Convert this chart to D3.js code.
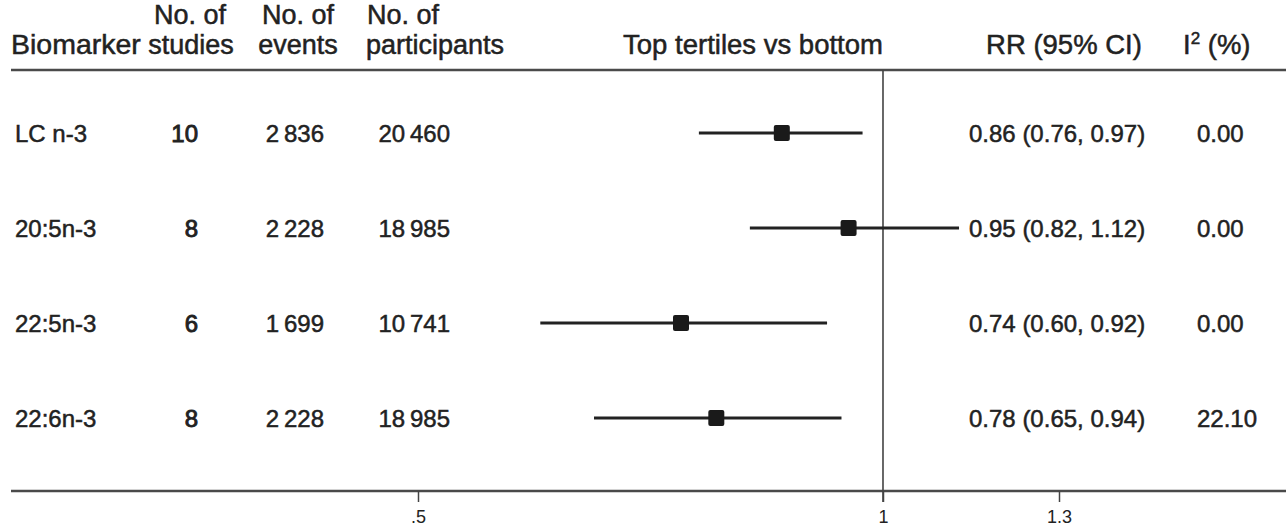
<!DOCTYPE html>
<html>
<head>
<meta charset="utf-8">
<script src="https://cdn.jsdelivr.net/npm/d3@7"></script>
<style>
  body { margin: 0; background: #fff; }
  text { font-family: "Liberation Sans", Arial, sans-serif; fill: #222; }
  .heavy { stroke: #222; stroke-width: 0.5px; }
</style>
</head>
<body>
<div id="chart"></div>
<script>
// Table data, one entry per biomarker
const biomarkers = ["LC n-3", "20:5n-3", "22:5n-3", "22:6n-3"];
const nStudies = [10, 8, 6, 8];
const nEvents = [2836, 2228, 1699, 2228];
const nParticipants = [20460, 18985, 10741, 18985];
const rr = [0.86, 0.95, 0.74, 0.78];
const lower = [0.76, 0.82, 0.60, 0.65];
const upper = [0.97, 1.12, 0.92, 0.94];
const i2 = [0.00, 0.00, 0.00, 22.10];

// x axis ticks
const xTicks = [0.5, 1, 1.3];
const xTickLabels = [".5", "1", "1.3"];

const width = 1286, height = 527;

const svg = d3.select("#chart")
  .append("svg")
  .attr("width", width)
  .attr("height", height);

const rows = biomarkers.map((b, i) => ({
  name: b, studies: nStudies[i], events: nEvents[i], parts: nParticipants[i],
  rr: rr[i], lo: lower[i], hi: upper[i], i2: i2[i]
}));

// log scale for relative risk
const x = d3.scaleLog().domain([0.5, 1.3]).range([418, 1059]);
const y = d3.scalePoint().domain(biomarkers).range([133, 418]);

const locale = d3.formatLocale({decimal: ".", thousands: "\u2009", grouping: [3], currency: ["", ""]});
const fmtN = locale.format(",d");
const f2 = d3.format(".2f");

const topY = 70, axisY = 491;

// header
const head = svg.append("g").attr("font-size", 27).attr("class", "heavy");
head.append("text").attr("x", 11).attr("y", 54).attr("font-size", 28.5).text("Biomarker");
head.append("text").attr("x", 190).attr("y", 24).attr("text-anchor", "middle").text("No. of");
head.append("text").attr("x", 191).attr("y", 54).attr("text-anchor", "middle").text("studies");
head.append("text").attr("x", 298).attr("y", 24).attr("text-anchor", "middle").text("No. of");
head.append("text").attr("x", 298).attr("y", 54).attr("text-anchor", "middle").text("events");
head.append("text").attr("x", 367).attr("y", 24).text("No. of");
head.append("text").attr("x", 366).attr("y", 54).text("participants");
head.append("text").attr("x", 753).attr("y", 54).attr("text-anchor", "middle").attr("font-size", 27.5).text("Top tertiles vs bottom");
head.append("text").attr("x", 1064).attr("y", 54).attr("text-anchor", "middle").attr("font-size", 27.5).text("RR (95% CI)");
const iHead = head.append("text").attr("x", 1183).attr("y", 54).attr("font-size", 27.5);
iHead.append("tspan").text("I");
iHead.append("tspan").attr("dy", -10).attr("font-size", 17).text("2");
iHead.append("tspan").attr("dy", 10).text(" (%)");

// horizontal rules
svg.append("line")
  .attr("x1", 11).attr("x2", width).attr("y1", topY).attr("y2", topY)
  .attr("stroke", "#4a4a4a").attr("stroke-width", 2.5);
svg.append("line")
  .attr("x1", 11).attr("x2", width).attr("y1", axisY).attr("y2", axisY)
  .attr("stroke", "#4a4a4a").attr("stroke-width", 2.5);

// null line at RR = 1
svg.append("line")
  .attr("x1", x(1)).attr("x2", x(1)).attr("y1", topY).attr("y2", axisY + 11)
  .attr("stroke", "#444").attr("stroke-width", 1.6);

// axis
const axis = svg.append("g")
  .attr("transform", `translate(0,${axisY})`)
  .call(d3.axisBottom(x).tickValues(xTicks).tickSize(11)
    .tickFormat((d, i) => xTickLabels[i]));
axis.select(".domain").remove();
axis.selectAll(".tick line").attr("stroke", "#444").attr("stroke-width", 1.5);
axis.selectAll(".tick text")
  .attr("font-size", 18).attr("dy", 0).attr("y", 32)
  .style("font-family", "'Liberation Sans Narrow', 'Arial Narrow', sans-serif")
  .attr("fill", "#222");

// rows
const row = svg.append("g").selectAll("g")
  .data(rows)
  .enter().append("g")
  .attr("transform", d => `translate(0,${y(d.name)})`);

const cell = (xPos, anchor, fn) => row.append("text")
  .attr("class", "heavy")
  .attr("x", xPos).attr("y", 9).attr("font-size", 24)
  .attr("text-anchor", anchor)
  .text(fn);

cell(15, "start", d => d.name);
cell(198, "end", d => d.studies).style("stroke-width", "0.9px");
cell(324, "end", d => fmtN(d.events));
cell(450, "end", d => fmtN(d.parts));
cell(969, "start", d => `${f2(d.rr)} (${f2(d.lo)}, ${f2(d.hi)})`);
cell(1197, "start", d => f2(d.i2));

// confidence intervals
row.append("line")
  .attr("x1", d => x(d.lo)).attr("x2", d => x(d.hi))
  .attr("y1", 0).attr("y2", 0)
  .attr("stroke", "#222").attr("stroke-width", 2.8);

// point estimates
row.append("rect")
  .attr("x", d => x(d.rr) - 8).attr("y", -8)
  .attr("width", 16).attr("height", 16).attr("rx", 2)
  .attr("fill", "#1a1a1a");
</script>
</body>
</html>
